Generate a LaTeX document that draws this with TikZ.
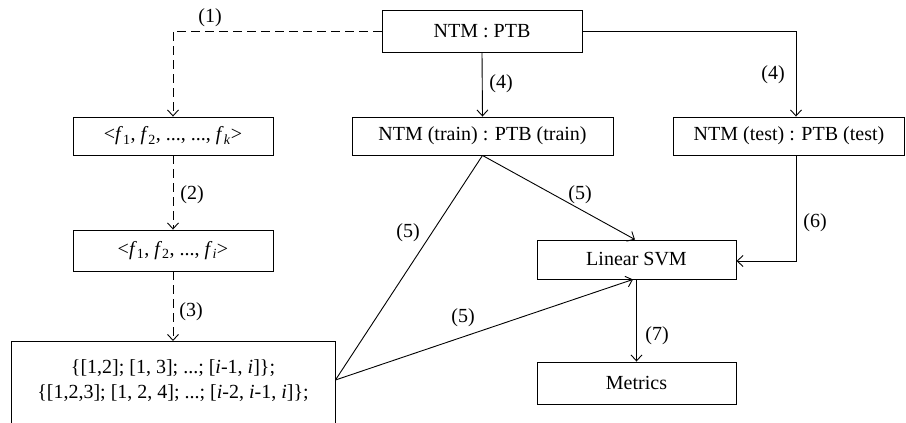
\documentclass[tikz,border=0pt]{standalone}
\usepackage{fontspec}
\setmainfont{Liberation Serif}
\usetikzlibrary{arrows.meta,calc}
\begin{document}
\begin{tikzpicture}[x=1pt,y=-1pt,
  txt/.style={font=\fontsize{20}{25}\selectfont},
  box/.style={draw, line width=0.9pt, inner sep=0pt, txt},
  conn/.style={line width=0.9pt},
  arr/.style={conn, -{Straight Barb[length=6pt,width=11pt]}},
  dsh/.style={dash pattern=on 9pt off 5pt},
  lbl/.style={txt}]
\useasboundingbox (0,0) rectangle (906,423);
\clip (0,0) rectangle (906,423);
% nodes
\node[box, minimum width=200, minimum height=42] (ntm) at (482,31) {NTM : PTB};
\node[box, minimum width=200, minimum height=38] (fk) at (173,136) {<\textit{f}\textsubscript{1}, \textit{f}\textsubscript{2}, ..., ..., \textit{f}\textsubscript{\textit{k}}>};
\node[box, minimum width=200, minimum height=41] (fi) at (173,250.5) {<\textit{f}\textsubscript{1}, \textit{f}\textsubscript{2}, ..., \textit{f}\textsubscript{\textit{i}}>};
\node[box, minimum width=324, minimum height=110, anchor=north] (big) at (173,341) {};
\node[txt, align=center] (bigtext) at (173,381) {\{[1,2]; [1, 3]; ...; [\textit{i}-1, \textit{i}]\};\\\{[1,2,3]; [1, 2, 4]; ...; [\textit{i}-2, \textit{i}-1, \textit{i}]\};};
\node[box, minimum width=261, minimum height=38] (train) at (482.5,136) {NTM (train) : PTB (train)};
\node[box, minimum width=231, minimum height=38] (test) at (789,136) {NTM (test) : PTB (test)};
\node[box, minimum width=199, minimum height=39] (svm) at (636.5,259.5) {Linear SVM};
\node[box, minimum width=199, minimum height=42] (met) at (636.5,383) {Metrics};
\coordinate (bx) at ($(big.north east)+(0,39)$);
% connectors
\draw[arr, dsh] (ntm.west) -| (fk.north);
\draw[arr, dsh] (fk.south) -- (fi.north);
\draw[arr, dsh] (fi.south) -- (big.north);
\draw[arr] (ntm.south) -- (train.north);
\draw[arr] (ntm.east) -| (test.north -| 796,0);
\draw[arr] (train.south) -- ($(svm.north)+(-1.5,0)$);
\draw[conn] (train.south) -- (bx);
\draw[arr] (bx) -- ($(svm.south)+(-3.5,0)$);
\draw[arr] (test.south -| 796,0) |- ($(svm.east)+(0,1.5)$);
\draw[arr] (svm.south) -- (met.north);
% labels
\node[lbl] (l1) at (210,18) {(1)};
\node[lbl] (l2) at (192,195) {(2)};
\node[lbl] (l3) at (191,312) {(3)};
\node[lbl] (l4a) at (501,84) {(4)};
\node[lbl] (l4b) at (773,75) {(4)};
\node[lbl] (l5a) at (580,195) {(5)};
\node[lbl] (l5b) at (408,233) {(5)};
\node[lbl] (l5c) at (463,318) {(5)};
\node[lbl] (l6) at (815,223) {(6)};
\node[lbl] (l7) at (657,336) {(7)};
\end{tikzpicture}
\end{document}
